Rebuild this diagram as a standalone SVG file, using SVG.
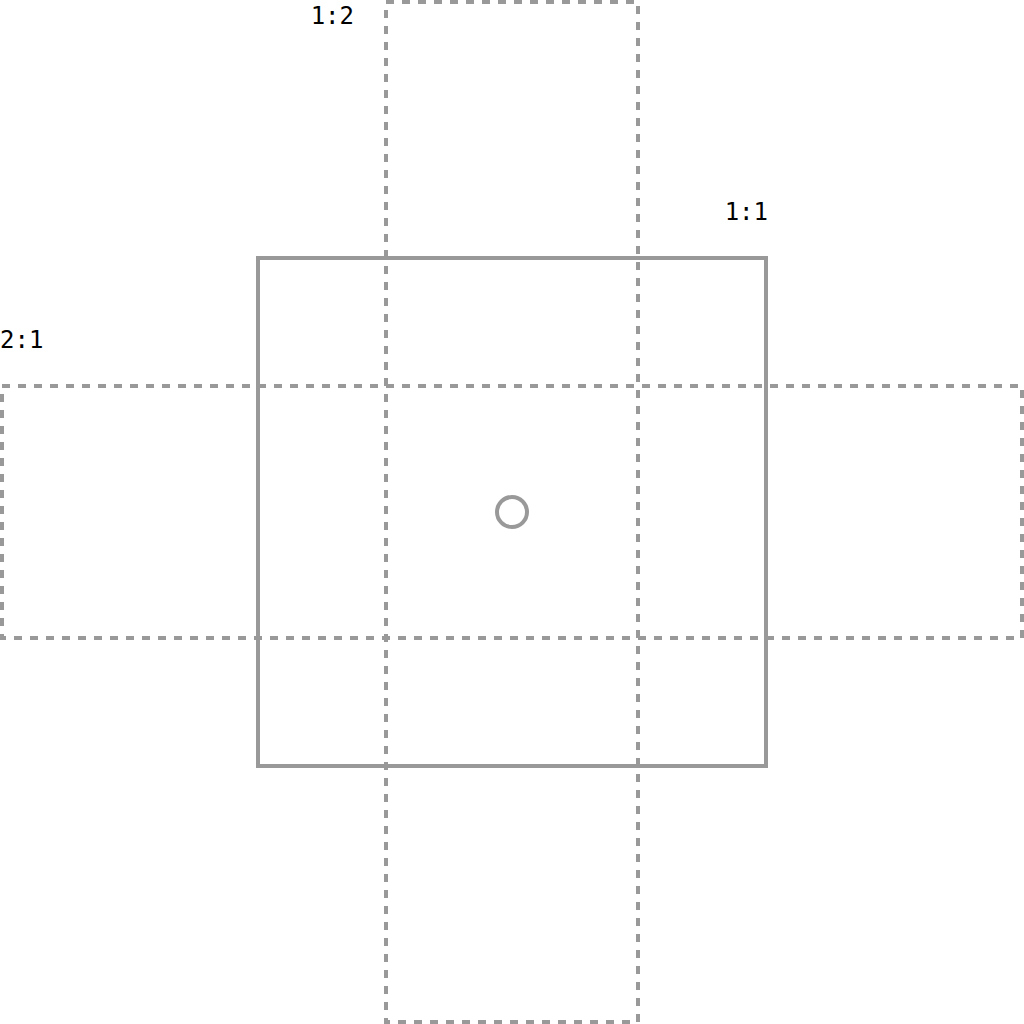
<svg xmlns="http://www.w3.org/2000/svg" width="1024" height="1024" viewBox="0 0 1024 1024">
<style>
.solid{fill:none;stroke:#999;stroke-width:4}
.dash{fill:none;stroke:#999;stroke-width:4;stroke-dasharray:8 8}
.lbl{font-family:"DejaVu Sans Mono","Liberation Mono",monospace;font-size:24px;fill:#000}
</style>
<rect fill="#fff" width="1024" height="1024"/>
<g id="ratio-1-1">
<rect class="solid" x="258" y="258" width="508" height="508"/>
<text class="lbl" x="768" y="220" text-anchor="end">1:1</text>
</g>
<g id="ratio-2-1">
<rect class="dash" x="2" y="386" width="1020" height="252"/>
<text class="lbl" x="0" y="348">2:1</text>
</g>
<g id="ratio-1-2">
<rect class="dash" x="386" y="2" width="252" height="1020"/>
<text class="lbl" x="354" y="24" text-anchor="end">1:2</text>
</g>
<g id="center">
<circle class="solid" cx="512" cy="512" r="15"/>
</g>
</svg>
